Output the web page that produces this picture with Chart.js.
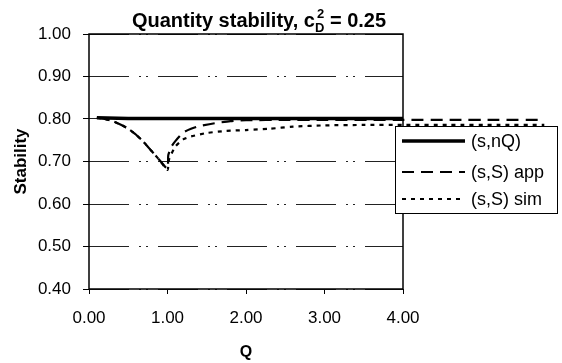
<!DOCTYPE html>
<html>
<head>
<meta charset="utf-8">
<script src="https://cdn.jsdelivr.net/npm/chart.js@4.4.1/dist/chart.umd.min.js"></script>
<style>
  html, body { margin: 0; padding: 0; background: #fff; }
  #wrap { width: 562px; height: 363px; }
</style>
</head>
<body>
<div id="wrap"><canvas id="chart" width="562" height="363"></canvas></div>
<script>
// values
const qNQ = [0.1, 0.5, 1.0, 2.0, 3.0, 4.0];
const stabNQ = [0.803, 0.801, 0.801, 0.801, 0.801, 0.801];

const qApp = [0.1, 0.2, 0.3, 0.4, 0.5, 0.6, 0.7, 0.8, 0.9, 1.0, 1.01, 1.05, 1.1, 1.2, 1.3, 1.4, 1.6, 1.8, 2.0, 2.5, 3.0, 4.0, 4.6, 5.2, 5.8];
const stabApp = [0.803, 0.800, 0.795, 0.787, 0.777, 0.763, 0.745, 0.724, 0.703, 0.683, 0.715, 0.735, 0.748, 0.768, 0.777, 0.783, 0.790, 0.795, 0.797, 0.798, 0.798, 0.798, 0.798, 0.798, 0.798];

const qSim = [0.1, 0.2, 0.3, 0.4, 0.5, 0.6, 0.7, 0.8, 0.9, 1.0, 1.02, 1.1, 1.2, 1.3, 1.5, 1.75, 2.0, 2.3, 2.6, 3.0, 3.5, 4.0, 4.6, 5.2, 5.8];
const stabSim = [0.803, 0.800, 0.795, 0.787, 0.777, 0.763, 0.745, 0.724, 0.703, 0.680, 0.705, 0.735, 0.752, 0.759, 0.767, 0.772, 0.774, 0.777, 0.782, 0.785, 0.786, 0.786, 0.786, 0.786, 0.786];

const seriesLabels = ['(s,nQ)', '(s,S) app', '(s,S) sim'];
const xTicks = [0, 1, 2, 3, 4];
const yTicks = [0.4, 0.5, 0.6, 0.7, 0.8, 0.9, 1.0];

const FONT = "'Liberation Sans', Arial, sans-serif";

function pts(xs, ys) {
  return xs.map((x, i) => ({ x: x, y: ys[i] }));
}

const titlePlugin = {
  id: 'richTitle',
  afterDraw(chart) {
    const ctx = chart.ctx;
    const parts = [
      { t: 'Quantity stability, c', size: 20, dy: 0 },
      { t: 'D', size: 13, dy: 5 },
      { t: '2', size: 13, dy: -9, back: true },
      { t: ' = 0.25', size: 20, dy: 0 }
    ];
    ctx.save();
    ctx.fillStyle = '#000';
    ctx.textBaseline = 'alphabetic';
    const widths = parts.map(p => {
      ctx.font = 'bold ' + p.size + 'px ' + FONT;
      return ctx.measureText(p.t).width;
    });
    const total = widths[0] + widths[1] + widths[3];
    let x = 259 - total / 2;
    const base = 27;
    let prevX = x;
    parts.forEach((p, i) => {
      ctx.font = 'bold ' + p.size + 'px ' + FONT;
      if (p.back) {
        ctx.fillText(p.t, prevX + 2, base + p.dy);
      } else {
        prevX = x;
        ctx.fillText(p.t, x, base + p.dy);
        x += widths[i];
      }
    });
    ctx.restore();
  }
};

const framePlugin = {
  id: 'frame',
  beforeDatasetsDraw(chart) {
    const a = chart.chartArea;
    const ctx = chart.ctx;
    ctx.save();
    ctx.strokeStyle = '#000';
    ctx.lineWidth = 1.5;
    ctx.strokeRect(a.left, a.top, a.right - a.left, a.bottom - a.top);
    ctx.restore();
  }
};

const legendPlugin = {
  id: 'boxLegend',
  afterDatasetsDraw(chart) {
    const ctx = chart.ctx;
    const box = { x: 395, y: 126, w: 162, h: 87 };
    const rows = [141, 172, 199];
    ctx.save();
    ctx.fillStyle = '#fff';
    ctx.fillRect(box.x, box.y, box.w, box.h);
    ctx.strokeStyle = '#000';
    ctx.lineWidth = 1;
    ctx.strokeRect(box.x + 0.5, box.y + 0.5, box.w, box.h);
    chart.data.datasets.forEach((ds, i) => {
      ctx.strokeStyle = ds.borderColor;
      ctx.lineWidth = ds.borderWidth;
      ctx.setLineDash(ds.borderDash || []);
      ctx.beginPath();
      ctx.moveTo(402, rows[i]);
      ctx.lineTo(465, rows[i]);
      ctx.stroke();
      ctx.setLineDash([]);
      ctx.fillStyle = '#000';
      ctx.font = '18px ' + FONT;
      ctx.textBaseline = 'middle';
      ctx.fillText(ds.label, 471, rows[i] + 1);
    });
    ctx.restore();
  }
};

new Chart(document.getElementById('chart').getContext('2d'), {
  type: 'line',
  data: {
    datasets: [
      {
        label: seriesLabels[0],
        data: pts(qNQ, stabNQ),
        borderColor: '#000',
        borderWidth: 3.5,
        pointRadius: 0,
        tension: 0,
      },
      {
        label: seriesLabels[1],
        data: pts(qApp, stabApp),
        borderColor: '#000',
        borderWidth: 2.2,
        borderDash: [12, 7],
        pointRadius: 0,
        tension: 0.2,
        clip: false,
      },
      {
        label: seriesLabels[2],
        data: pts(qSim, stabSim),
        borderColor: '#000',
        borderWidth: 2.2,
        borderDash: [4, 5],
        pointRadius: 0,
        tension: 0.2,
        clip: false,
      },
    ],
  },
  options: {
    responsive: false,
    animation: false,
    layout: { padding: { left: 0, right: 159, top: 34, bottom: 0 } },
    plugins: {
      legend: { display: false },
      title: { display: false },
      tooltip: { enabled: false },
    },
    scales: {
      x: {
        type: 'linear',
        afterDataLimits(scale) { scale.min = 0; scale.max = 4; },
        afterFit(scale) { scale.height = 74; },
        afterBuildTicks(scale) { scale.ticks = xTicks.map(v => ({ value: v })); },
        ticks: {
          color: '#000',
          font: { family: FONT, size: 17 },
          padding: 14,
          callback: v => Number(v).toFixed(2),
        },
        grid: { drawOnChartArea: false, color: '#000', tickLength: 5 },
        border: { display: false },
        title: {
          display: true,
          text: 'Q',
          color: '#000',
          font: { family: FONT, size: 16, weight: 'bold' },
          padding: { top: 0, bottom: 1 },
        },
      },
      y: {
        min: 0.4,
        max: 1.0,
        afterFit(scale) { scale.width = 89; },
        afterBuildTicks(scale) { scale.ticks = yTicks.map(v => ({ value: v })); },
        ticks: {
          color: '#000',
          font: { family: FONT, size: 17 },
          padding: 12,
          callback: v => Number(v).toFixed(2),
        },
        grid: {
          color: '#222',
          lineWidth: 1,
          tickLength: 6,
          tickColor: '#000',
        },
        border: { display: false, dash: [40, 10, 2, 5, 2, 10] },
        title: {
          display: true,
          text: 'Stability',
          color: '#000',
          font: { family: FONT, size: 17, weight: 'bold' },
          padding: { top: 11, bottom: 0 },
        },
      },
    },
  },
  plugins: [framePlugin, legendPlugin, titlePlugin],
});
</script>
</body>
</html>
